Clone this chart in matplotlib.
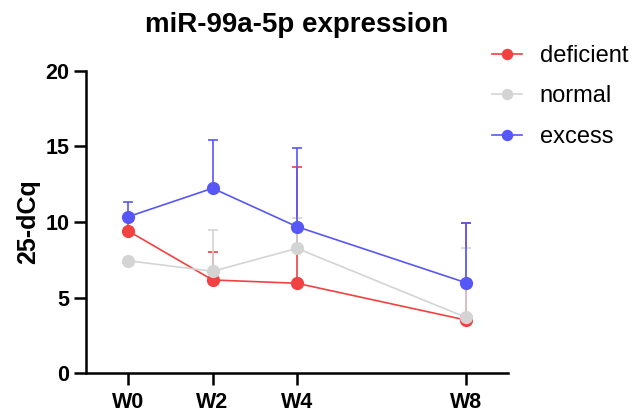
import matplotlib
matplotlib.use("Agg")
import matplotlib.pyplot as plt

plt.rcParams["font.family"] = ["Liberation Sans", "DejaVu Sans"]

# data
weeks = [0, 2, 4, 8]
week_labels = ["W0", "W2", "W4", "W8"]

deficient = [9.41, 6.17, 5.95, 3.52]
deficient_err = [1.05, 1.87, 7.70, 6.43]

normal = [7.44, 6.74, 8.26, 3.70]
normal_err = [0.0, 2.73, 1.98, 4.58]

excess = [10.35, 12.23, 9.69, 5.99]
excess_err = [0.97, 3.21, 5.22, 3.96]

series = [
    ("deficient", deficient, deficient_err, "#f24141"),
    ("normal", normal, normal_err, "#d4d4d4"),
    ("excess", excess, excess_err, "#5757f7"),
]

fig = plt.figure(figsize=(6.32, 4.12), dpi=100)
ax = fig.add_axes([86 / 632, 1 - 373.3 / 412, (508 - 86) / 632, (373.3 - 70.7) / 412])

for name, vals, err, col in series:
    ax.errorbar(
        weeks, vals,
        yerr=[[0] * len(err), err],
        color=col, ecolor=col, marker="o", markersize=8.5,
        linewidth=1.2, elinewidth=1.2, capsize=3.5, capthick=1.2,
        label=name,
    )

ax.set_xlim(-1, 9)
ax.set_ylim(0, 20)
ax.set_xticks(weeks)
ax.set_xticklabels(week_labels)
ax.set_yticks([0, 5, 10, 15, 20])
for s in ["top", "right"]:
    ax.spines[s].set_visible(False)
for s in ["left", "bottom"]:
    ax.spines[s].set_linewidth(1.8)
ax.tick_params(axis="both", width=1.8, length=8.5, labelsize=15.5)
ax.tick_params(axis="x", pad=5)
for lab in ax.get_xticklabels() + ax.get_yticklabels():
    lab.set_fontweight("bold")

ax.set_ylabel("25-dCq", fontsize=18, fontweight="bold")
ax.yaxis.set_label_coords(-0.108, 0.5)
ax.set_title("miR-99a-5p expression", fontsize=20, fontweight="bold", pad=28)

handles, labels = ax.get_legend_handles_labels()
handles = [h[0] for h in handles]
fig.legend(
    handles, labels,
    loc="upper left", bbox_to_anchor=(492 / 632, 1 - 45 / 412),
    frameon=False, fontsize=17, handlelength=1.27, handletextpad=0.76,
    labelspacing=0.78, borderpad=0, borderaxespad=0, markerscale=0.85,
)

fig.savefig("out.png", dpi=100)
